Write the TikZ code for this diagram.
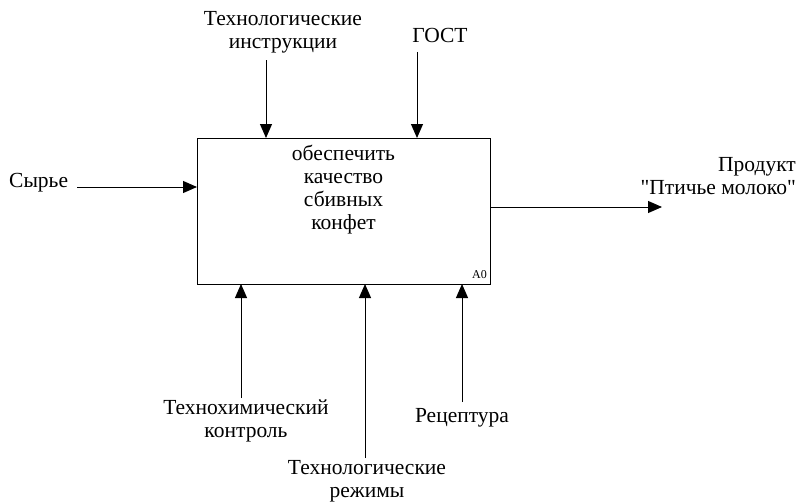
\documentclass[tikz,border=0pt]{standalone}
\usepackage{fontspec}
\setmainfont{Liberation Serif}[Ligatures=TeXOff]
\usetikzlibrary{arrows.meta}
\begin{document}
\begin{tikzpicture}[x=1pt,y=-1pt,
  lbl/.style={font=\fontsize{21.5}{23}\selectfont, align=center, inner sep=0pt},
  conn/.style={line width=1pt, -{Triangle[length=14pt,width=12pt]}},
  func/.style={draw, line width=1pt, minimum width=293pt, minimum height=146pt, inner sep=0pt}]
\useasboundingbox (0,0) rectangle (799,503);
\node[func] (box) at (343.5,211) {};
\node[lbl, anchor=north] (t) at (343.5,145) {обеспечить\\качество\\сбивных\\конфет};
\node[font=\fontsize{12}{13}\selectfont, inner sep=0pt, anchor=south east] (a0) at (487,279) {A0};
% controls
\node[lbl] (ti) at (283,32) {Технологические\\инструкции};
\node[lbl] (gost) at (440,35) {ГОСТ};
\coordinate (c1s) at (266,60);
\coordinate (c1e) at (266,138);
\coordinate (c2s) at (417,52);
\coordinate (c2e) at (417,138);
\draw[conn] (c1s) -- (c1e);
\draw[conn] (c2s) -- (c2e);
% input
\node[lbl, anchor=west] (in) at (9,183) {Сырье};
\coordinate (is) at (77,187);
\coordinate (ie) at (197,187);
\draw[conn] (is) -- (ie);
% output
\node[lbl, align=right, anchor=east] (out) at (796,176) {Продукт\\"Птичье молоко"};
\coordinate (os) at (490,207);
\coordinate (oe) at (662,207);
\draw[conn] (os) -- (oe);
% mechanisms
\node[lbl] (tk) at (246,421) {Технохимический\\контроль};
\node[lbl] (tr) at (367,481) {Технологические\\режимы};
\node[lbl] (rc) at (462,418) {Рецептура};
\coordinate (m1s) at (241,398);
\coordinate (m1e) at (241,284);
\coordinate (m2s) at (365,458);
\coordinate (m2e) at (365,284);
\coordinate (m3s) at (462,402);
\coordinate (m3e) at (462,284);
\draw[conn] (m1s) -- (m1e);
\draw[conn] (m2s) -- (m2e);
\draw[conn] (m3s) -- (m3e);
\end{tikzpicture}
\end{document}
